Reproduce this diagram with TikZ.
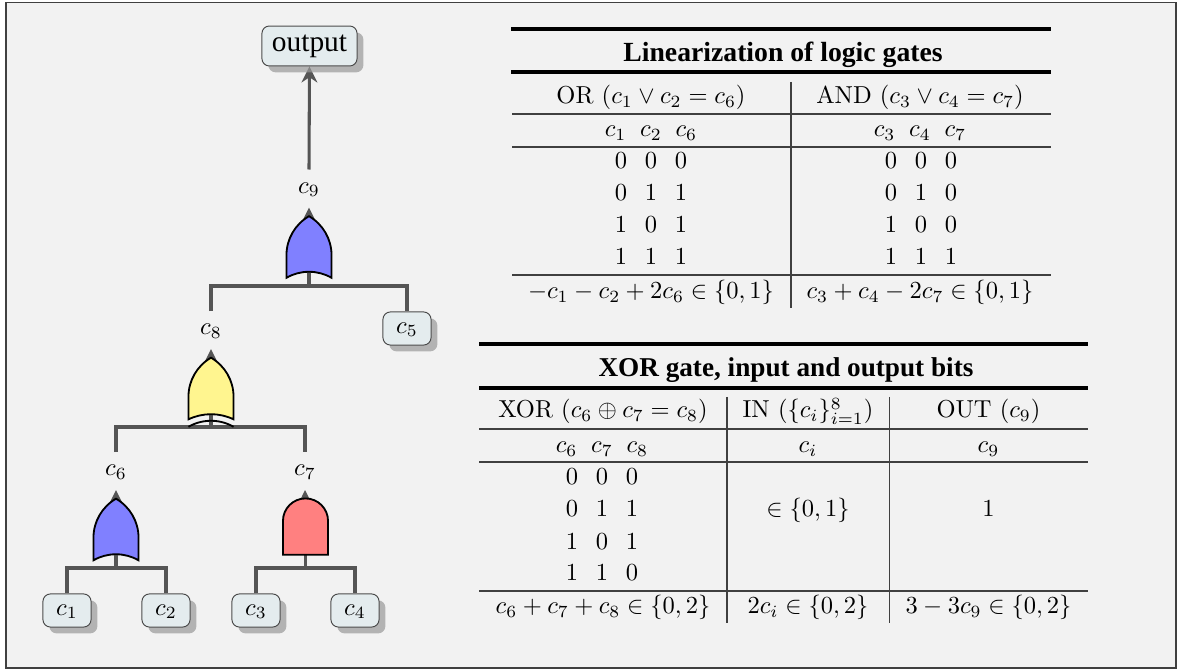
\documentclass[tikz,border=0pt]{standalone}
\usepackage{amsmath, amssymb}
\usepackage{fontspec}
\usepackage{tikz}
\usetikzlibrary{shapes, shapes.gates.logic.US, arrows.meta, positioning, shadows}

\newfontfamily\headfont{Liberation Serif}
\newcommand{\bits}[3]{$#1\hspace{7.2pt}#2\hspace{7.2pt}#3$}
\newcommand{\wires}[3]{$c_{#1}\hspace{5.6pt}c_{#2}\hspace{5.6pt}c_{#3}$}

\definecolor{panelbg}{HTML}{F2F2F2}
\definecolor{boxbg}{HTML}{E4ECEE}
\definecolor{wirecol}{HTML}{555555}
\definecolor{orcol}{HTML}{8080FF}
\definecolor{xorcol}{HTML}{FFF58F}
\definecolor{andcol}{HTML}{FF8080}

\pgfdeclarelayer{frame}
\pgfdeclarelayer{edges}
\pgfsetlayers{frame,edges,main}

\tikzset{
    wire/.style={draw=wirecol, line width=1.25pt},
    wirearrow/.style={wire, -{Stealth[length=6.5pt, width=6.4pt]}},
    bitbox/.style={draw=black!70, fill=boxbg, rounded corners=3pt, line width=0.4pt, inner sep=0pt,
        minimum width=19.6pt, minimum height=13.5pt, text height=5.6pt, text depth=1.9pt,
        drop shadow={shadow xshift=2.6pt, shadow yshift=-2.6pt, fill=black!40, opacity=0.7}},
    wirelabel/.style={inner sep=0pt, minimum height=15.1pt, text height=5.6pt, text depth=1.9pt},
    gate/.style={draw=black, line width=0.75pt, rotate=90, logic gate inputs=nn,
        minimum height=18.4pt, inner sep=0pt},
    cell/.style={anchor=base, inner sep=0pt},
    rulethick/.style={line width=1.6pt, black},
    rulethin/.style={line width=0.5pt, black!75},
}

\begin{document}
\begin{tikzpicture}[x=0.408pt, y=-0.408pt]
    \useasboundingbox (0,0) rectangle (1177,670);
    \begin{pgfonlayer}{frame}
        \draw[draw=black!75, fill=panelbg, line width=0.8pt] (6,2.5) rectangle (1176,668);
    \end{pgfonlayer}

    % boxes and labels of the tree
    \node[bitbox, minimum width=38.8pt, minimum height=16.3pt, text height=7.4pt, text depth=2.7pt] (output) at (309.5,46) {\headfont\fontsize{12}{14}\selectfont output};
    \node[wirelabel] (c9) at (309,188.5) {$c_9$};
    \node[wirelabel] (c8) at (211,330) {$c_8$};
    \node[wirelabel] (c6) at (116,471) {$c_6$};
    \node[wirelabel] (c7) at (305,471) {$c_7$};
    \node[bitbox] (c5) at (407,328.5) {$c_5$};
    \foreach \i/\xpos in {1/67, 2/166, 3/256, 4/355} {
        \node[bitbox] (c\i) at (\xpos,610.5) {$c_\i$};
    }

    % gates
    \node[gate, or gate US, minimum width=25pt, fill=orcol] (gateTop) at (309,251.5) {};
    \node[gate, xor gate US, minimum width=25pt, fill=xorcol] (gateMid) at (211,393) {};
    \node[gate, or gate US, minimum width=25pt, fill=orcol] (gateLeft) at (116,534) {};
    \node[gate, and gate US, minimum width=21.2pt, fill=andcol] (gateRight) at (305.5,528.5) {};

    \coordinate (jTop) at (309,286);
    \coordinate (jMid) at (211,427);
    \coordinate (jLeft) at (116,568);
    \coordinate (jRight) at (305.5,568);

    \begin{pgfonlayer}{edges}
        \draw[wirearrow] (c9.north) -- (output.south);
        \draw[wirearrow] (gateTop.center) -- (c9.south);
        \draw[wirearrow] (gateMid.center) -- (c8.south);
        \draw[wirearrow] (gateLeft.center) -- (c6.south);
        \draw[wirearrow] (gateRight.center) -- (c7.south);

        \draw[wire] (gateTop.center) -- (jTop);
        \draw[wire] (c8.north) |- (jTop) -| (c5.north);
        \draw[wire] (gateMid.center) -- (jMid);
        \draw[wire] (c6.north) |- (jMid) -| (c7.north);
        \draw[wire] (gateLeft.center) -- (jLeft);
        \draw[wire] (c1.north) |- (jLeft) -| (c2.north);
        \draw[wire] (gateRight.center) -- (jRight);
        \draw[wire] (c3.north) |- (jRight) -| (c4.north);
    \end{pgfonlayer}

    % first table
    \draw[rulethick] (511,29) -- (1051,29);
    \draw[rulethick] (511,72) -- (1051,72);
    \draw[rulethin] (512,114) -- (1051,114);
    \draw[rulethin] (512,147) -- (1051,147);
    \draw[rulethin] (512,275) -- (1051,275);
    \draw[rulethin] (791,82) -- (791,308);

    \node[cell] (titleA) at (783,61.5) {\headfont\bfseries\fontsize{11.3}{14}\selectfont Linearization of logic gates};
    \node[cell] (headOr) at (651,104) {OR ($c_1 \vee c_2 = c_6$)};
    \node[cell] (headAnd) at (920,104) {AND ($c_3 \vee c_4 = c_7$)};
    \node[cell] (wiresOr) at (651,137) {\wires{1}{2}{6}};
    \node[cell] (wiresAnd) at (920,137) {\wires{3}{4}{7}};
    \foreach \row/\ya/\la/\ra in {1/169/000/000, 2/201/011/010, 3/233/101/100, 4/264.5/111/111} {
        \node[cell] (orRow\row) at (651,\ya) {\expandafter\bits\la};
        \node[cell] (andRow\row) at (921,\ya) {\expandafter\bits\ra};
    }
    \node[cell] (sumOr) at (651,298.5) {$-c_1 - c_2 + 2c_6 \in \{0,1\}$};
    \node[cell] (sumAnd) at (920,298.5) {$c_3 + c_4 - 2c_7 \in \{0,1\}$};

    % second table
    \draw[rulethick] (479,344) -- (1088,344);
    \draw[rulethick] (479,388) -- (1088,388);
    \draw[rulethin] (479,429) -- (1088,429);
    \draw[rulethin] (479,462) -- (1088,462);
    \draw[rulethin] (479,591) -- (1088,591);
    \draw[rulethin] (727,397) -- (727,623);
    \draw[rulethin] (889.5,397) -- (889.5,623);

    \node[cell] (titleB) at (786,377) {\headfont\bfseries\fontsize{11.1}{14}\selectfont XOR gate, input and output bits};
    \node[cell] (headXor) at (603,418) {XOR ($c_6 \oplus c_7 = c_8$)};
    \node[cell] (headIn) at (808,418) {IN ($\{c_i\}_{i=1}^8$)};
    \node[cell] (headOut) at (988.5,418) {OUT ($c_9$)};
    \node[cell] (wiresXor) at (602,452.5) {\wires{6}{7}{8}};
    \node[cell] (wiresIn) at (808,452.5) {$c_i$};
    \node[cell] (wiresOut) at (988.5,452.5) {$c_9$};
    \foreach \row/\ya/\la in {1/485/000, 2/517/011, 3/549/101, 4/581/110} {
        \node[cell] (xorRow\row) at (602,\ya) {\expandafter\bits\la};
    }
    \node[cell] (rangeIn) at (808,517) {$\in \{0,1\}$};
    \node[cell] (valueOut) at (988.5,517) {$1$};
    \node[cell] (sumXor) at (603,614) {$c_6 + c_7 + c_8 \in \{0,2\}$};
    \node[cell] (sumIn) at (808,614) {$2c_i \in \{0,2\}$};
    \node[cell] (sumOut) at (988.5,614) {$3 - 3c_9 \in \{0,2\}$};
\end{tikzpicture}
\end{document}
